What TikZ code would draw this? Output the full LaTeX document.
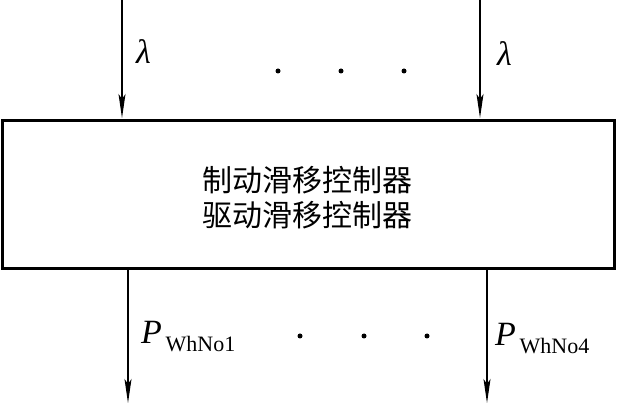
\documentclass[tikz,border=0pt]{standalone}
\usepackage{fontspec}
\setmainfont{Liberation Serif}
\newfontfamily\cjk{Noto Sans CJK SC}
\usetikzlibrary{arrows.meta,positioning}
\tikzset{
  ctrlbox/.style={draw=black,line width=3pt,minimum width=612pt,minimum height=148pt,inner sep=0pt},
  ctrltext/.style={inner sep=0pt,align=center,font=\cjk\fontsize{30}{35}\selectfont},
  sig/.style={-{Stealth[length=24pt,width=7pt,inset=5pt]},line width=1.3pt,shorten >=1.5pt},
  lam/.style={inner sep=0pt,anchor=base west,font=\fontsize{34}{34}\selectfont\itshape},
  outlab/.style={inner sep=0pt,anchor=base west,font=\fontsize{34}{34}\selectfont\itshape},
  dot/.style={circle,fill=black,inner sep=0pt,minimum size=5pt},
}
\newcommand{\Pwh}[1]{P\raisebox{-8pt}{\fontsize{22}{22}\selectfont\upshape\,WhNo#1}}

\begin{document}
\begin{tikzpicture}[x=1pt,y=-1pt]
\useasboundingbox (0,0) rectangle (619,403);
\node[ctrlbox] (ctrl) at (308,195) {};
\node[ctrltext] (name) at (307,198) {制动滑移控制器\\驱动滑移控制器};
% slip inputs
\coordinate (in1) at (122,0);
\coordinate (in4) at (480,0);
\draw[sig] (in1) -- (in1 |- ctrl.north);
\draw[sig] (in4) -- (in4 |- ctrl.north);
\node[lam] (lam1) at (136,64) {λ};
\node[lam] (lam4) at (497,66) {λ};
\node[dot] (di1) at (278,71) {};
\node[dot] (di2) at (341,71) {};
\node[dot] (di3) at (404,71) {};
% pressure outputs
\coordinate (out1) at (128,403);
\coordinate (out4) at (487,403);
\draw[sig,shorten >=0pt] (out1 |- ctrl.south) -- (out1);
\draw[sig,shorten >=0pt] (out4 |- ctrl.south) -- (out4);
\node[outlab] (p1) at (141,344) {\Pwh{1}};
\node[outlab] (p4) at (495,346) {\Pwh{4}};
\node[dot] (do1) at (300,336) {};
\node[dot] (do2) at (364,336) {};
\node[dot] (do3) at (427,336) {};
\end{tikzpicture}
\end{document}
